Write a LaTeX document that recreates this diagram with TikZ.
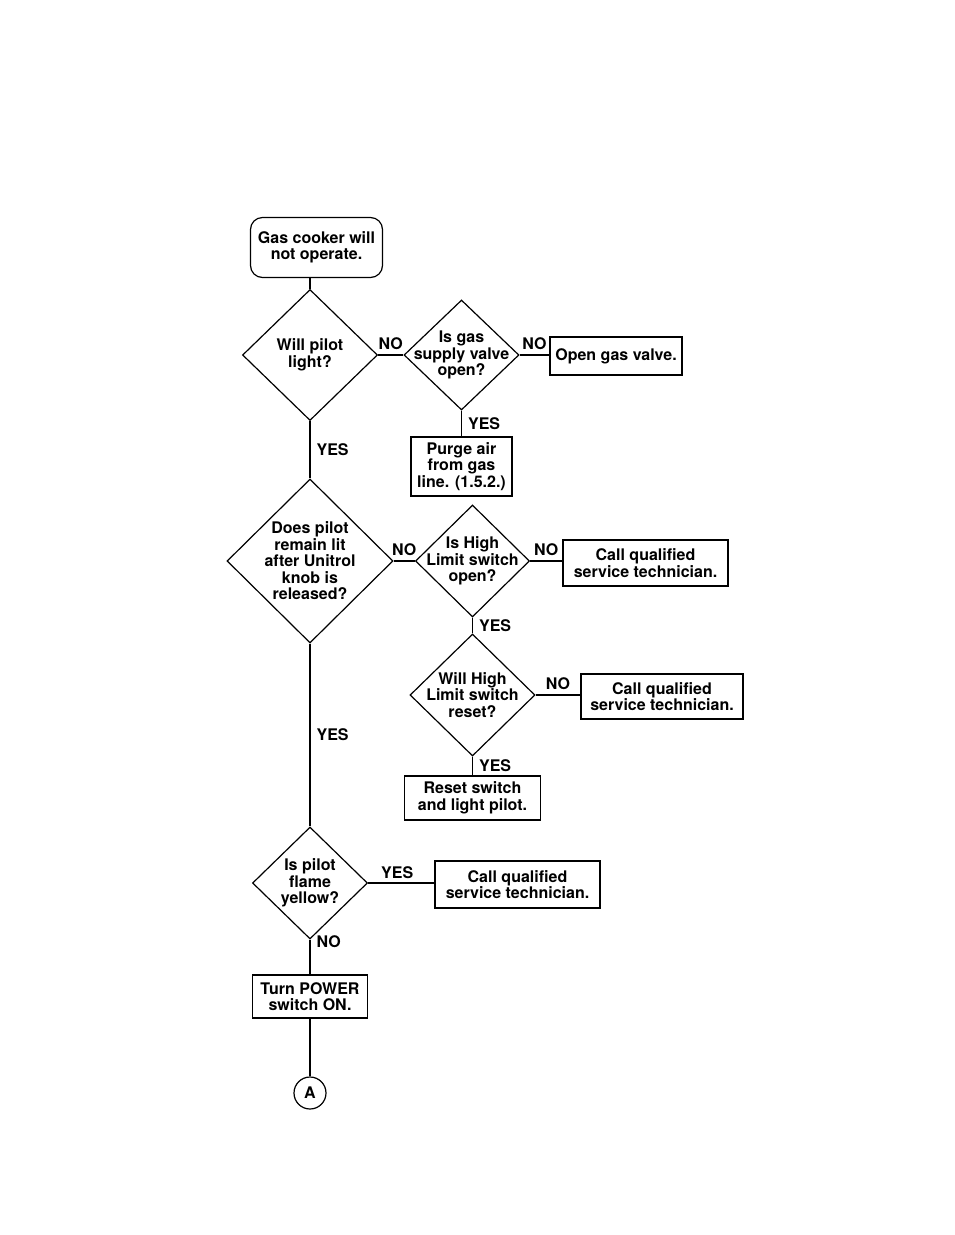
\documentclass[tikz,border=0pt]{standalone}
\usepackage{fontspec}
\setmainfont{TeX Gyre Heros}
\usetikzlibrary{shapes.geometric, positioning}

\begin{document}
\begin{tikzpicture}[
  x=1pt, y=-1pt,
  font=\bfseries\fontsize{16}{16.5}\selectfont,
  line width=1.2pt,
  every label/.style={align=center, inner sep=0pt},
  term/.style={draw, rounded corners=12pt, align=center, inner sep=0pt},
  box/.style={draw, align=center, inner sep=0pt},
  dec/.style={draw, diamond, inner sep=0pt},
  conn/.style={draw, circle, inner sep=0pt, minimum size=32pt},
  ln/.style={draw},
  lbl/.style={inner sep=1pt}]

\useasboundingbox (0,0) rectangle (954,1235);

% main column
\node[term, minimum width=132pt, minimum height=60pt] (start) at (316.5,247.5) {Gas cooker will\\not operate.};
\node[dec, minimum width=135pt, minimum height=131pt, label=center:{Will pilot\\light?}] (q1) at (310,355) {};
\node[dec, minimum width=166pt, minimum height=164pt, label=center:{Does pilot\\remain lit\\after Unitrol\\knob is\\released?}] (q3) at (310,561) {};
\node[dec, minimum width=115pt, minimum height=112pt, label=center:{Is pilot\\flame\\yellow?}] (q6) at (310,883) {};
\node[box, minimum width=115pt, minimum height=43pt] (power) at (310,996.5) {Turn POWER\\switch ON.};
\node[conn] (conA) at (310,1093) {A};

% gas supply branch
\node[dec, minimum width=115pt, minimum height=110pt, label=center:{Is gas\\supply valve\\open?}] (q2) at (461.5,355) {};
\node[box, minimum width=132pt, minimum height=38pt] (open) at (616,356) {Open gas valve.};
\node[box, minimum width=101pt, minimum height=59pt] (purge) at (461.5,466.5) {Purge air\\from gas\\line. (1.5.2.)};

% high limit branch
\node[dec, minimum width=114pt, minimum height=112pt, label=center:{Is High\\Limit switch\\open?}] (q4) at (472.5,561) {};
\node[box, minimum width=165pt, minimum height=46pt] (call1) at (645.5,563) {Call qualified\\service technician.};
\node[dec, minimum width=125pt, minimum height=122pt, label=center:{Will High\\Limit switch\\reset?}] (q5) at (472.5,695) {};
\node[box, minimum width=162pt, minimum height=45pt] (call2) at (662,696.5) {Call qualified\\service technician.};
\node[box, minimum width=136pt, minimum height=44pt] (reset) at (472.5,798) {Reset switch\\and light pilot.};

\node[box, minimum width=165pt, minimum height=47pt] (call3) at (517.5,884.5) {Call qualified\\service technician.};

\draw[ln] (q1.north) -- (q1.north |- start.south);
\draw[ln] (q1.east) -- node[lbl, above=4pt]{NO} (q2.west);
\draw[ln] (q2.east) -- node[lbl, above=4pt]{NO} (q2.east -| open.west);
\draw[ln] (q2.south) -- node[lbl, right=5pt]{YES} (purge.north);
\draw[ln] (q1.south) -- node[lbl, right=5pt]{YES} (q3.north);
\draw[ln] (q3.east) -- node[lbl, above=4pt]{NO} (q4.west);
\draw[ln] (q4.east) -- node[lbl, above=4pt]{NO} (q4.east -| call1.west);
\draw[ln] (q4.south) -- node[lbl, right=5pt]{YES} (q5.north);
\draw[ln] (q5.east) -- node[lbl, above=4pt]{NO} (q5.east -| call2.west);
\draw[ln] (q5.south) -- node[lbl, right=5pt]{YES} (reset.north);
\draw[ln] (q3.south) -- node[lbl, right=5pt]{YES} (q6.north);
\draw[ln] (q6.east) -- node[lbl, above=3pt, xshift=-4pt]{YES} (q6.east -| call3.west);
\draw[ln] (q6.south) -- node[lbl, pos=0.05, right=5pt]{NO} (power.north);
\draw[ln] (power.south) -- (conA.north);
\end{tikzpicture}
\end{document}
